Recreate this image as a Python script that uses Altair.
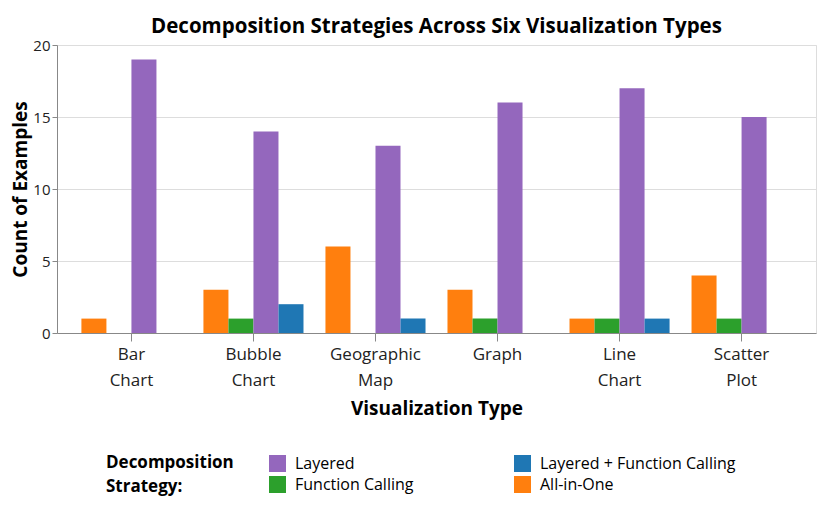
import altair as alt
import pandas as pd

vis_types = ["Bar Chart", "Bubble Chart", "Geographic Map", "Graph", "Line Chart", "Scatter Plot"]
all_in_one = [1, 3, 6, 3, 1, 4]
function_calling = [0, 1, 0, 1, 1, 1]
layered = [19, 14, 13, 16, 17, 15]
layered_fc = [0, 2, 1, 0, 1, 0]

strategies = ["All-in-One", "Function Calling", "Layered", "Layered + Function Calling"]
series = [all_in_one, function_calling, layered, layered_fc]

rows = []
for s, vals in zip(strategies, series):
    for v, c in zip(vis_types, vals):
        rows.append({"Visualization Type": v, "Strategy": s, "Count": c})
df = pd.DataFrame(rows)

legend_order = ["Layered", "Layered + Function Calling", "Function Calling", "All-in-One"]
legend_colors = ["#9467bd", "#1f77b4", "#2ca02c", "#ff7f0e"]

FONT = "Open Sans"

chart = alt.Chart(df).mark_bar().encode(
    x=alt.X("Visualization Type:N", sort=vis_types,
            scale=alt.Scale(paddingInner=0.18, paddingOuter=0.2),
            axis=alt.Axis(labelAngle=0, labelExpr="split(datum.label, ' ')",
                          labelFontSize=17, labelLineHeight=26, labelPadding=5,
                          tickSize=8, titleFontSize=19, titlePadding=11,
                          titleFontWeight="bold")),
    xOffset=alt.XOffset("Strategy:N", sort=strategies),
    y=alt.Y("Count:Q", title="Count of Examples",
            scale=alt.Scale(domain=[0, 20]),
            axis=alt.Axis(values=[0, 5, 10, 15, 20], labelFontSize=15,
                          tickSize=5, labelPadding=2,
                          titleFontSize=19, titleFontWeight="bold", titlePadding=2)),
    color=alt.Color("Strategy:N",
                    scale=alt.Scale(domain=legend_order, range=legend_colors),
                    legend=alt.Legend(title=["Decomposition", "Strategy:"],
                                      orient="none", legendX=49, legendY=410,
                                      direction="horizontal",
                                      columns=2, titleOrient="left",
                                      titleAnchor="start",
                                      titleFontSize=17, titleLineHeight=24,
                                      labelFontSize=16,
                                      symbolType="square", symbolSize=289,
                                      symbolStrokeWidth=0, labelOffset=9,
                                      columnPadding=100, rowPadding=4,
                                      titlePadding=35, labelLimit=300)),
).properties(
    width=759, height=288,
    padding={"left": 3, "top": 8, "right": 5, "bottom": 5},
    title=alt.TitleParams("Decomposition Strategies Across Six Visualization Types",
                          fontSize=20.5, fontWeight="bold", offset=1),
).configure(font=FONT).configure_axis(
    domainColor="#888", tickColor="#888", gridColor="#ddd", labelColor="#222",
    titleColor="#000"
).configure_view(stroke="#ddd")

chart.save("out.html", embed_options={"renderer": "svg", "actions": False})
